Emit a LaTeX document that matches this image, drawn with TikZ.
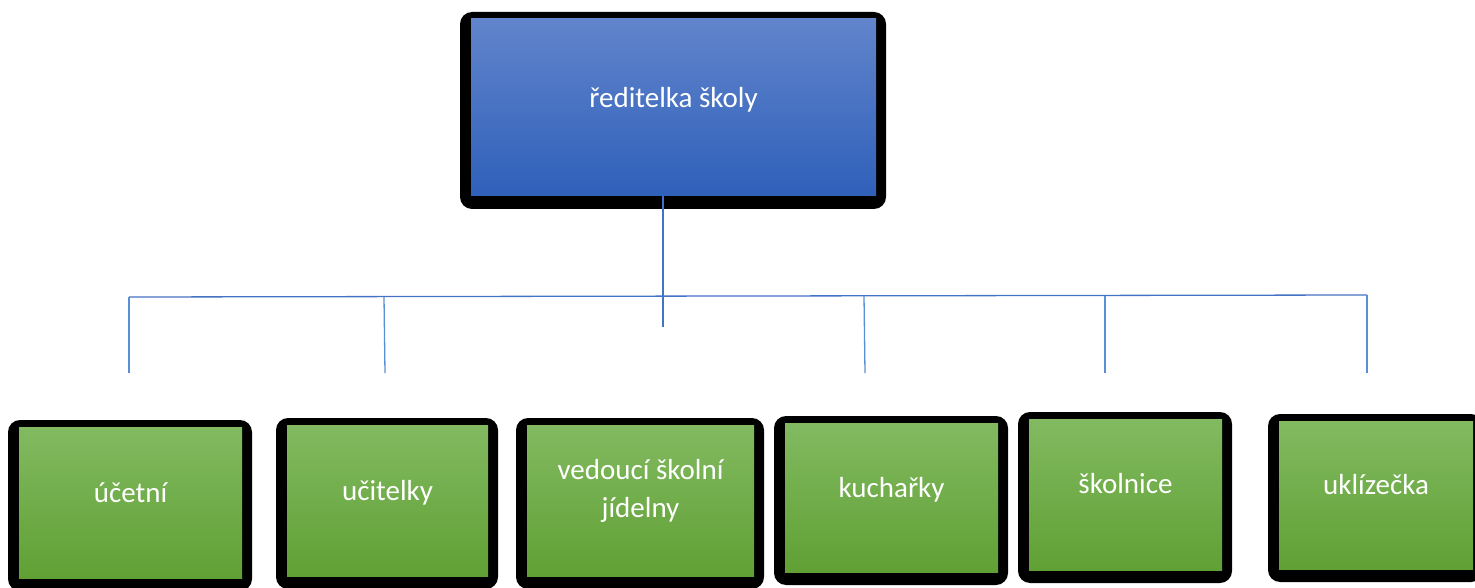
\documentclass[tikz,border=0pt]{standalone}
\usepackage{fontspec}
\setmainfont{Carlito}
\usetikzlibrary{positioning,calc,backgrounds}

\definecolor{bossTop}{HTML}{6184CB}
\definecolor{bossBottom}{HTML}{2F60BA}
\definecolor{staffTop}{HTML}{82BA61}
\definecolor{staffBottom}{HTML}{60A034}
\definecolor{busblue}{HTML}{4472C4}
\definecolor{dropblue}{HTML}{5A8FD6}

\tikzset{
	card/.style={rectangle, inner sep=0pt, outer sep=0pt},
	bosscard/.style={card, top color=bossTop, bottom color=bossBottom},
	staffcard/.style={card, top color=staffTop, bottom color=staffBottom},
	cardtext/.style={text=white, inner sep=0pt, anchor=base, align=center,
		font=\fontsize{29}{38}\selectfont},
	bus/.style={busblue, line width=1.3pt},
	drop/.style={dropblue, line width=1.3pt}
}

\begin{document}
\begin{tikzpicture}[x=1pt,y=-1pt]
	\useasboundingbox (0,0) rectangle (1475,588);

	% boxes
	\node[bosscard, minimum width=405pt, minimum height=177pt] (boss) at (673.5,107.5) {};
	\node[staffcard, minimum width=223pt, minimum height=151pt] (ucetni) at (130.5,502.5) {};
	\node[staffcard, minimum width=201pt, minimum height=151pt] (ucitelky) at (387.5,500.5) {};
	\node[staffcard, minimum width=227pt, minimum height=151pt] (vedouci) at (640.5,500.5) {};
	\node[staffcard, minimum width=213pt, minimum height=149pt] (kucharky) at (891.5,497.5) {};
	\node[staffcard, minimum width=193pt, minimum height=151pt] (skolnice) at (1125.5,494.5) {};
	\node[staffcard, minimum width=194pt, minimum height=148pt] (uklizecka) at (1376,495) {};

	% black frames behind the boxes
	\begin{scope}[on background layer]
		\foreach \n in {boss,ucetni,ucitelky,vedouci,kucharky,skolnice,uklizecka}{
			\fill[black, rounded corners=12pt] ($(\n.north west)+(-11,-7)$) rectangle ($(\n.south east)+(10,13)$);
		}
	\end{scope}

	% texts
	\node[cardtext] (boss-t) at (boss.center) {ředitelka školy};
	\node[cardtext] (ucetni-t) at (ucetni.center) {účetní};
	\node[cardtext] (ucitelky-t) at (ucitelky.center) {učitelky};
	\node[cardtext] (vedouci-t) at ([yshift=-16.5pt]vedouci.center) {vedoucí školní\\jídelny};
	\node[cardtext] (kucharky-t) at (kucharky.center) {kuchařky};
	\node[cardtext] (skolnice-t) at ([yshift=1.5pt]skolnice.center) {školnice};
	\node[cardtext] (uklizecka-t) at ([yshift=1pt]uklizecka.center) {uklízečka};

	% connectors
	\coordinate (stem) at (663,327);
	\coordinate (bus-l) at (129,297);
	\coordinate (bus-r) at (1367,295);
	\draw[bus] (stem |- boss.south) -- (stem);
	\draw[bus] (bus-l) -- (bus-r);
	\foreach \x/\y/\z in {129/297/129, 384/297/385, 864/296/865, 1105/296/1105, 1367/295/1367}{
		\draw[drop] (\x,\y) -- (\z,373);
	}
\end{tikzpicture}
\end{document}
